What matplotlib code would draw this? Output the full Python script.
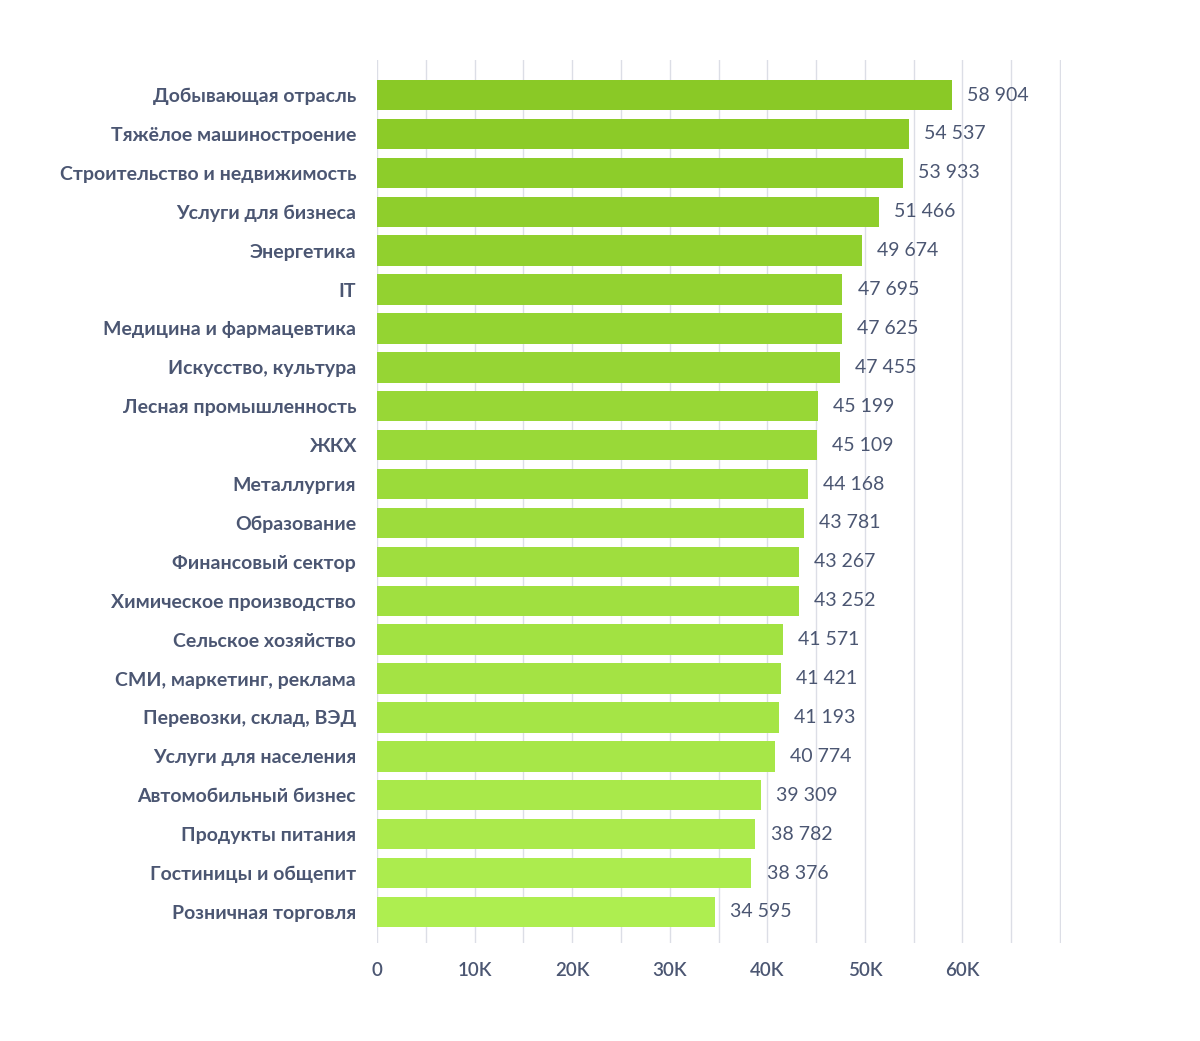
import numpy as np
import matplotlib
matplotlib.use("Agg")
import matplotlib.pyplot as plt
from matplotlib.colors import to_rgb

plt.rcParams['font.family'] = ['Lato', 'Open Sans', 'DejaVu Sans']

# data
industries = [
    'Добывающая отрасль', 'Тяжёлое машиностроение', 'Строительство и недвижимость',
    'Услуги для бизнеса', 'Энергетика', 'IT', 'Медицина и фармацевтика',
    'Искусство, культура', 'Лесная промышленность', 'ЖКХ', 'Металлургия',
    'Образование', 'Финансовый сектор', 'Химическое производство',
    'Сельское хозяйство', 'СМИ, маркетинг, реклама', 'Перевозки, склад, ВЭД',
    'Услуги для населения', 'Автомобильный бизнес', 'Продукты питания',
    'Гостиницы и общепит', 'Розничная торговля',
]
salaries = [58904, 54537, 53933, 51466, 49674, 47695, 47625, 47455, 45199, 45109,
            44168, 43781, 43267, 43252, 41571, 41421, 41193, 40774, 39309, 38782,
            38376, 34595]
xtick_vals = [0, 10000, 20000, 30000, 40000, 50000, 60000]
xtick_labels = ['0', '10K', '20K', '30K', '40K', '50K', '60K']

text_col = '#4b5672'
c_top = np.array(to_rgb('#8ac926'))
c_bot = np.array(to_rgb('#aeee50'))
n = len(salaries)
colors = [c_top + (c_bot - c_top) * i / (n - 1) for i in range(n)]

fig = plt.figure(figsize=(12, 10.41), dpi=100)
ax = fig.add_axes([0.3142, 0.0941, 0.5700, 0.8482])

y = np.arange(n)
ax.barh(y, salaries, height=0.78, color=colors, zorder=3)

for yi, v in zip(y, salaries):
    ax.text(v + 1550, yi, f'{v:,}'.replace(',', ' '), va='center', ha='left',
            fontsize=14, color=text_col, zorder=4)

ax.set_xlim(0, 70100)
ax.set_ylim(n - 0.2, -0.9)
ax.set_xticks(xtick_vals)
ax.set_xticklabels(xtick_labels, fontsize=13.5, color=text_col, fontweight='semibold')
ax.set_xticks(np.arange(0, 70001, 5000), minor=True)
ax.set_yticks(y)
ax.set_yticklabels(industries, fontsize=14, color=text_col, fontweight='bold')
ax.tick_params(axis='both', length=0, which='both')
ax.tick_params(axis='x', pad=14)
ax.tick_params(axis='y', pad=15)
ax.grid(axis='x', which='both', color='#dcdee6', linewidth=1.0, zorder=0)
for s in ax.spines.values():
    s.set_visible(False)

fig.savefig('out.png', dpi=100, facecolor='white')
